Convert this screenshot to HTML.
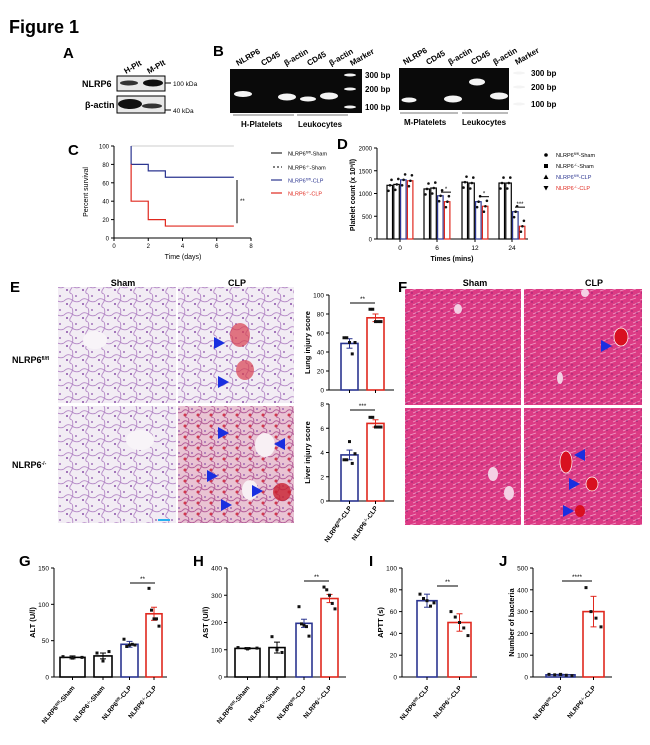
<!DOCTYPE html>
<html><head><meta charset="utf-8"><style>
body{margin:0;background:#fff;}
svg{display:block;font-family:"Liberation Sans",Arial,sans-serif;}
</style></head><body>
<svg id="s" width="650" height="745" viewBox="0 0 650 745" xmlns="http://www.w3.org/2000/svg">
<defs>
<pattern id="lung" width="16" height="14" patternUnits="userSpaceOnUse">
<rect width="16" height="14" fill="#f2ecf4"/>
<path d="M0 7 Q4 3 8 6 T16 7 M8 0 Q10 5 7 9 T8 14" stroke="#b488c6" stroke-width="0.9" fill="none"/>
<circle cx="3" cy="10" r="1" fill="#8a50a8"/><circle cx="12" cy="2" r="0.9" fill="#8a50a8"/>
</pattern>
<pattern id="lungr" width="13" height="11" patternUnits="userSpaceOnUse">
<rect width="13" height="11" fill="#e9c3d3"/>
<path d="M0 5 Q3 1 6 4 T13 5 M6 0 Q8 3 5 7 T6 11" stroke="#b5609a" stroke-width="1" fill="none"/>
<circle cx="3" cy="8" r="1.5" fill="#d0384e"/><circle cx="10" cy="2" r="0.9" fill="#8a50a8"/>
</pattern>
<pattern id="liver" width="10" height="9" patternUnits="userSpaceOnUse">
<rect width="10" height="9" fill="#dc3a84"/>
<path d="M0 3 L6 1 M3 8 L10 5" stroke="#f0a0c8" stroke-width="0.7"/>
<circle cx="7" cy="7" r="0.8" fill="#8a2070"/><circle cx="2" cy="5" r="0.7" fill="#8a2070"/>
</pattern>
</defs>
<g id="g"></g>
</svg>
<script>
var o='';
function t(x,y,s,fs,opt){opt=opt||{};o+='<text x="'+x+'" y="'+y+'" font-size="'+fs+'"'+(opt.b?' font-weight="bold"':'')+(opt.a?' text-anchor="'+opt.a+'"':'')+(opt.f?' fill="'+opt.f+'"':'')+(opt.r!==undefined?' transform="rotate('+opt.r+' '+x+' '+y+')"':'')+'>'+s+'</text>';}
function r(x,y,w,h,f,st,sw){o+='<rect x="'+x+'" y="'+y+'" width="'+w+'" height="'+h+'" fill="'+f+'"'+(st?' stroke="'+st+'" stroke-width="'+(sw||1)+'"':'')+'/>';}
function l(x1,y1,x2,y2,c,w){o+='<line x1="'+x1+'" y1="'+y1+'" x2="'+x2+'" y2="'+y2+'" stroke="'+(c||'#000')+'" stroke-width="'+(w||1)+'"/>';}
function band(cx,cy,w,h){o+='<ellipse cx="'+cx+'" cy="'+cy+'" rx="'+w/2+'" ry="'+h/2+'" fill="#f4f4f4"/>';}
function tri(x,y,dir){
 if(dir>0)o+='<polygon points="'+x+','+(y-6)+' '+(x+11)+','+y+' '+x+','+(y+6)+'" fill="#1a2fe0"/>';
 else o+='<polygon points="'+x+','+(y-6)+' '+(x-11)+','+y+' '+x+','+(y+6)+'" fill="#1a2fe0"/>';}
t(9,33,'Figure 1',18,{b:1});
t(63,58,'A',15,{b:1});
r(117,76,48,15,'#e8e8e8','#000');r(117,96,48,17,'#e8e8e8','#000');
o+='<ellipse cx="129" cy="83" rx="9" ry="2.5" fill="#333"/><ellipse cx="153" cy="83" rx="10" ry="3.5" fill="#111"/>';
o+='<ellipse cx="130" cy="104" rx="12" ry="5" fill="#111"/><ellipse cx="152" cy="106" rx="10" ry="2.5" fill="#333"/>';
t(82,87,'NLRP6',9,{b:1});t(85,108,'β-actin',9,{b:1});
l(165,83,171,83);l(165,110,171,110);t(173,86,'100 kDa',6.5);t(173,113,'40 kDa',6.5);
t(126,74,'H-Plt',8,{b:1,r:-30});t(149,74,'M-Plt',8,{b:1,r:-30});
t(213,56,'B',15,{b:1});
r(230,69,132,44,'#0a0a0a');
band(243,94,18,6);band(287,97,18,7);band(308,99,16,5);band(329,96,18,7);
band(350,75,12,3);band(350,89,12,3);band(350,107,12,3);
[['NLRP6',238],['CD45',263],['β-actin',286],['CD45',309],['β-actin',331],['Marker',352]].forEach(function(a){t(a[1],66,a[0],8,{b:1,r:-30});});
t(365,78,'300 bp',8,{b:1});t(365,92,'200 bp',8,{b:1});t(365,110,'100 bp',8,{b:1});
l(233,115,294,115,'#777');l(297,115,348,115,'#777');
t(241,127,'H-Platelets',8,{b:1});t(298,127,'Leukocytes',8,{b:1});
r(399,68,110,42,'#0a0a0a');
band(409,100,15,5);band(453,99,18,7);band(477,82,16,7);band(499,96,18,7);
band(519,73,12,3);band(519,87,12,3);band(519,104,12,3);
[['NLRP6',405],['CD45',428],['β-actin',450],['CD45',473],['β-actin',495],['Marker',517]].forEach(function(a){t(a[1],65,a[0],8,{b:1,r:-30});});
t(531,76,'300 bp',8,{b:1});t(531,90,'200 bp',8,{b:1});t(531,107,'100 bp',8,{b:1});
l(400,113,458,113,'#777');l(462,113,508,113,'#777');
t(404,125,'M-Platelets',8,{b:1});t(462,125,'Leukocytes',8,{b:1});
t(68,155,'C',15,{b:1});
var cx0=114,cx8=251,cy100=146,cy0=238;
function CX(v){return cx0+(cx8-cx0)*v/8;}function CY(v){return cy0-(cy0-cy100)*v/100;}
l(cx0,cy100,cx0,cy0);l(cx0,cy0,cx8,cy0);
[0,20,40,60,80,100].forEach(function(v){l(cx0-3,CY(v),cx0,CY(v));t(cx0-5,CY(v)+2.5,v,6,{a:'end'});});
[0,2,4,6,8].forEach(function(v){l(CX(v),cy0,CX(v),cy0+3);t(CX(v),cy0+10,v,6,{a:'middle'});});
t(88,192,'Percent survival',7,{a:'middle',r:-90});t(183,259,'Time (days)',7,{a:'middle'});
o+='<polyline fill="none" stroke="#ccc" stroke-width="1" points="'+CX(1)+','+CY(100)+' '+CX(7)+','+CY(100)+'"/>';
o+='<polyline fill="none" stroke="#2b3590" stroke-width="1.2" points="'+CX(1)+','+CY(100)+' '+CX(1)+','+CY(80)+' '+CX(2)+','+CY(80)+' '+CX(2)+','+CY(73)+' '+CX(3)+','+CY(73)+' '+CX(3)+','+CY(66)+' '+CX(7)+','+CY(66)+'"/>';
o+='<polyline fill="none" stroke="#e0281e" stroke-width="1.2" points="'+CX(1)+','+CY(80)+' '+CX(1)+','+CY(40)+' '+CX(2)+','+CY(40)+' '+CX(2)+','+CY(20)+' '+CX(3)+','+CY(20)+' '+CX(3)+','+CY(13)+' '+CX(7)+','+CY(13)+'"/>';
l(237,CY(63),237,CY(16));t(240,CY(38),'**',6);
l(271,153,282,153,'#000');t(288,155.5,'NLRP6<tspan font-size="4" dy="-2">fl/fl</tspan><tspan dy="2">-Sham</tspan>',5.5);
l(271,167,282,167,'#000');o+='<line x1="271" y1="167" x2="282" y2="167" stroke="#fff" stroke-dasharray="2 2"/>';t(288,169.5,'NLRP6<tspan font-size="4" dy="-2">-/-</tspan><tspan dy="2">-Sham</tspan>',5.5);
l(271,180,282,180,'#2b3590',1.2);t(288,182.5,'NLRP6<tspan font-size="4" dy="-2">fl/fl</tspan><tspan dy="2">-CLP</tspan>',5.5,{f:'#2b3590'});
l(271,193,282,193,'#e0281e',1.2);t(288,195.5,'NLRP6<tspan font-size="4" dy="-2">-/-</tspan><tspan dy="2">-CLP</tspan>',5.5,{f:'#e0281e'});
t(337,149,'D',15,{b:1});
var dx=377,dy0=239,dy2=148;function DY(v){return dy0-(dy0-dy2)*v/2000;}
l(dx,dy2,dx,dy0);l(dx,dy0,528,dy0);
[0,500,1000,1500,2000].forEach(function(v){l(dx-3,DY(v),dx,DY(v));t(dx-5,DY(v)+2.5,v,6,{a:'end'});});
var dv=[[1180,1200,1300,1280],[1100,1120,950,820],[1250,1230,820,720],[1230,1230,600,280]];
var gc=[400,437,475,512],bc=['#000','#000','#2b3590','#e0281e'];
dv.forEach(function(g,i){g.forEach(function(v,j){var x=gc[i]-13+j*6.8;r(x,DY(v),5.5,dy0-DY(v),'#fff',bc[j],1.2);
 for(var k=0;k<3;k++){o+='<circle cx="'+(x+1.5+k*1.5)+'" cy="'+(DY(v+(k-1)*120))+'" r="1.3" fill="#111"/>';}});
 l(gc[i],dy0,gc[i],dy0+3);t(gc[i],dy0+11,[0,6,12,24][i],6.5,{a:'middle'});});
l(441,DY(1030),451,DY(1030));t(446,DY(1060),'*',6,{a:'middle'});
l(479,DY(930),489,DY(930));t(484,DY(960),'*',6,{a:'middle'});
l(515,DY(700),525,DY(700));t(520,DY(730),'***',6,{a:'middle'});
t(355,195,'Platelet count (x 10<tspan font-size="4" dy="-2">9</tspan><tspan dy="2">/l)</tspan>',7,{b:1,a:'middle',r:-90});
t(452,261,'Times (mins)',7,{b:1,a:'middle'});
[['NLRP6<tspan font-size="4" dy="-2">fl/fl</tspan><tspan dy="2">-Sham</tspan>','#000',155],['NLRP6<tspan font-size="4" dy="-2">-/-</tspan><tspan dy="2">-Sham</tspan>','#000',166],['NLRP6<tspan font-size="4" dy="-2">fl/fl</tspan><tspan dy="2">-CLP</tspan>','#2b3590',177],['NLRP6<tspan font-size="4" dy="-2">-/-</tspan><tspan dy="2">-CLP</tspan>','#e0281e',188]].forEach(function(a,i){
 if(i==0)o+='<circle cx="546" cy="'+a[2]+'" r="1.8" fill="#000"/>';else if(i==1)r(544,a[2]-2,4,4,'#000');else if(i==2)o+='<polygon points="546,'+(a[2]-2.5)+' 548.5,'+(a[2]+2)+' 543.5,'+(a[2]+2)+'" fill="#000"/>';else o+='<polygon points="546,'+(a[2]+2.5)+' 548.5,'+(a[2]-2)+' 543.5,'+(a[2]-2)+'" fill="#000"/>';
 t(556,a[2]+2,a[0],5.5,{f:a[1]});});
t(10,292,'E',15,{b:1});
t(123,286,'Sham',9,{b:1,a:'middle'});t(237,286,'CLP',9,{b:1,a:'middle'});
r(58,287,118,116,'url(#lung)');r(178,287,116,116,'url(#lung)');r(58,406,118,117,'url(#lung)');r(178,406,116,117,'url(#lungr)');
o+='<ellipse cx="240" cy="335" rx="10" ry="12" fill="#d84050" opacity=".7"/><ellipse cx="245" cy="370" rx="9" ry="10" fill="#d84050" opacity=".7"/>';
o+='<ellipse cx="95" cy="340" rx="12" ry="9" fill="#f8f4f8"/><ellipse cx="140" cy="440" rx="14" ry="10" fill="#f8f4f8"/><ellipse cx="265" cy="445" rx="10" ry="12" fill="#f8f0f4"/><ellipse cx="250" cy="490" rx="8" ry="10" fill="#f8f0f4"/>';
o+='<ellipse cx="282" cy="492" rx="9" ry="9" fill="#c82030" opacity=".8"/>';
tri(214,343,1);tri(218,382,1);tri(218,433,1);tri(285,444,-1);tri(207,476,1);tri(252,491,1);tri(221,505,1);
l(158,520,170,520,'#2ab0f0',2);
t(12,363,'NLRP6<tspan font-size="5" dy="-3">fl/fl</tspan>',9,{b:1});t(12,468,'NLRP6<tspan font-size="5" dy="-3">-/-</tspan>',9,{b:1});
function bar(ax,y0,ytop,vmax,ticks,lbl,bars,sig,axend){
 function Y(v){return y0-(y0-ytop)*v/vmax;}
 l(ax,ytop,ax,y0);l(ax,y0,axend,y0);
 ticks.forEach(function(v){l(ax-3,Y(v),ax,Y(v));t(ax-5,Y(v)+2.5,v,6.5,{a:'end'});});
 t(ax-19,(y0+ytop)/2,lbl,7.5,{b:1,a:'middle',r:-90});
 bars.forEach(function(b){r(b[0],Y(b[2]),b[1]-b[0],y0-Y(b[2]),'#fff',b[3],1.6);
  var c=(b[0]+b[1])/2;l(c,Y(b[2]+b[4]),c,Y(b[2]-b[4]),b[3]);l(c-3,Y(b[2]+b[4]),c+3,Y(b[2]+b[4]),b[3]);l(c-3,Y(b[2]-b[4]),c+3,Y(b[2]-b[4]),b[3]);
  (b[5]||[]).forEach(function(p,k){var px=b[0]+3+k*(b[1]-b[0]-6)/Math.max(1,b[5].length-1);o+='<rect x="'+(px-1.5)+'" y="'+(Y(p)-1.5)+'" width="3" height="3" fill="#111"/>';});
  l(c,y0,c,y0+3);});
 l(sig[0],sig[2],sig[1],sig[2]);t((sig[0]+sig[1])/2,sig[2]-2,sig[3],6.5,{a:'middle'});
}
bar(329,390,295,100,[0,20,40,60,80,100],'Lung injury score',[[341,358,49,'#2b3590',5,[55,55,50,38,50]],[367,384,76,'#e0281e',4,[85,85,72,72,72]]],[350,375,303,'**'],394);
bar(329,501,404,8,[0,2,4,6,8],'Liver injury score',[[341,358,3.8,'#2b3590',0.4,[3.4,3.4,4.9,3.1,3.9]],[367,384,6.4,'#e0281e',0.3,[6.9,6.9,6.1,6.1,6.1]]],[350,375,410,'***'],394);
t(352,508,'NLRP6<tspan font-size="4" dy="-2">fl/fl</tspan><tspan dy="2">-CLP</tspan>',6.5,{b:1,a:'end',r:-55});
t(378,508,'NLRP6<tspan font-size="4" dy="-2">-/-</tspan><tspan dy="2">-CLP</tspan>',6.5,{b:1,a:'end',r:-55});
t(398,292,'F',15,{b:1});
t(475,286,'Sham',9,{b:1,a:'middle'});t(594,286,'CLP',9,{b:1,a:'middle'});
r(405,289,116,116,'url(#liver)');r(524,289,118,116,'url(#liver)');r(405,408,116,117,'url(#liver)');r(524,408,118,117,'url(#liver)');
o+='<ellipse cx="458" cy="309" rx="4" ry="5" fill="#f4d0e4"/><ellipse cx="560" cy="378" rx="3" ry="6" fill="#f4d0e4"/><ellipse cx="585" cy="293" rx="4" ry="4" fill="#f4d0e4"/>';
o+='<ellipse cx="493" cy="474" rx="5" ry="7" fill="#f4d0e4"/><ellipse cx="509" cy="493" rx="5" ry="7" fill="#f4d0e4"/>';
o+='<ellipse cx="621" cy="337" rx="7" ry="9" fill="#d81020" stroke="#fff" stroke-width=".7"/><ellipse cx="566" cy="462" rx="6" ry="11" fill="#d81020" stroke="#fff" stroke-width=".7"/><ellipse cx="592" cy="484" rx="6" ry="7" fill="#d81020" stroke="#fff" stroke-width=".7"/><ellipse cx="580" cy="511" rx="5" ry="6" fill="#d81020"/>';
tri(601,346,1);tri(585,455,-1);tri(569,484,1);tri(563,511,1);
t(19,566,'G',15,{b:1});t(193,566,'H',15,{b:1});t(369,566,'I',15,{b:1});t(499,566,'J',15,{b:1});
bar(54,677,568,150,[0,50,100,150],'ALT (U/l)',[[60,85,27,'#000',2,[28,26,27]],[94,112,29,'#000',4,[33,22,35]],[121,138,45,'#2b3590',4,[52,42,44,45,44]],[146,162,87,'#e0281e',9,[122,92,80,80,70]]],[130,155,583,'**'],167);
bar(227,677,568,400,[0,100,200,300,400],'AST (U/l)',[[235,260,105,'#000',3,[108,103,106]],[269,285,108,'#000',20,[148,100,90]],[296,312,197,'#2b3590',15,[258,195,190,185,150]],[321,338,288,'#e0281e',15,[330,320,300,270,250]]],[304,329,581,'**'],346);
bar(402,677,568,100,[0,20,40,60,80,100],'APTT (s)',[[417,437,70,'#2b3590',6,[76,72,70,65,68]],[448,471,50,'#e0281e',8,[60,55,50,45,38]]],[437,458,586,'**'],477);
bar(533,677,568,500,[0,100,200,300,400,500],'Number of bacteria',[[546,575,10,'#2b3590',3,[12,10,12,8,6]],[583,604,300,'#e0281e',70,[410,300,270,230]]],[562,592,581,'****'],612);
function xl(x,s){t(x,688,s,6.5,{b:1,a:'end',r:-50});}
var ff='NLRP6<tspan font-size="4" dy="-2">fl/fl</tspan><tspan dy="2">',kk='NLRP6<tspan font-size="4" dy="-2">-/-</tspan><tspan dy="2">';
xl(75,ff+'-Sham</tspan>');xl(105,kk+'-Sham</tspan>');xl(132,ff+'-CLP</tspan>');xl(157,kk+'-CLP</tspan>');
xl(250,ff+'-Sham</tspan>');xl(280,kk+'-Sham</tspan>');xl(307,ff+'-CLP</tspan>');xl(332,kk+'-CLP</tspan>');
xl(430,ff+'-CLP</tspan>');xl(462,kk+'-CLP</tspan>');
xl(563,ff+'-CLP</tspan>');xl(596,kk+'-CLP</tspan>');
document.getElementById('g').innerHTML=o;
</script>
</body></html>
